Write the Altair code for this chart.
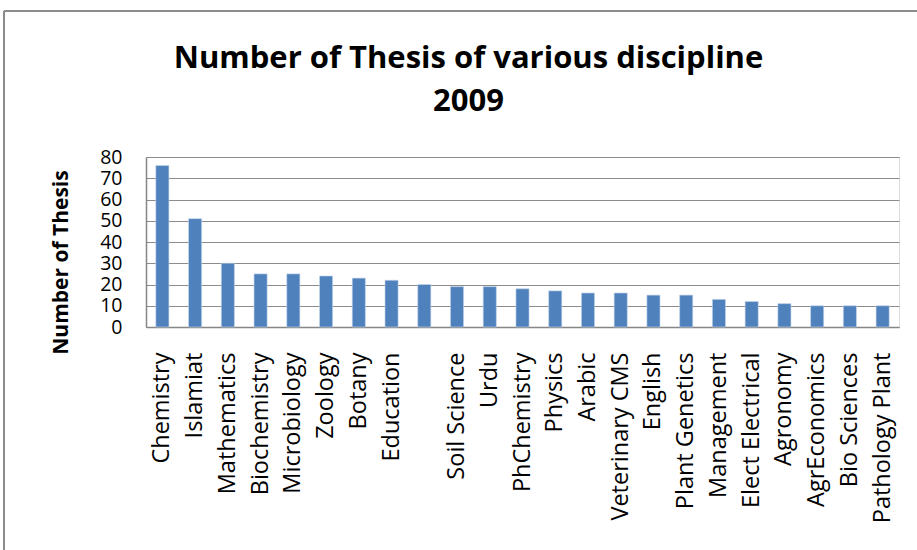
import altair as alt
import pandas as pd

# Theses per discipline, 2009 (one discipline has no name on record)
disciplines = [
    "Chemistry", "Islamiat", "Mathematics", "Biochemistry", "Microbiology",
    "Zoology", "Botany", "Education", " ", "Soil Science", "Urdu",
    "PhChemistry", "Physics", "Arabic", "Veterinary CMS", "English",
    "Plant Genetics", "Management", "Elect Electrical", "Agronomy",
    "AgrEconomics", "Bio Sciences", "Pathology Plant",
]
theses = [76, 51, 30, 25, 25, 24, 23, 22, 20, 19, 19, 18, 17, 16, 16, 15,
          15, 13, 12, 11, 10, 10, 10]
y_ticks = [0, 10, 20, 30, 40, 50, 60, 70, 80]

df = pd.DataFrame({"discipline": disciplines, "count": theses})

FONT = "Open Sans"
PLOT_W, PLOT_H = 753, 170
LEFT, TOP = 146, 157

bars = alt.Chart(df).mark_bar(
    color="#4F81BD", stroke="#C5D5EA", strokeWidth=0.6
).encode(
    x=alt.X(
        "discipline:N",
        sort=disciplines,
        scale=alt.Scale(paddingInner=0.6, paddingOuter=0.3),
        axis=alt.Axis(
            title=None, labelAngle=-90, labelAlign="right",
            labelBaseline="middle", labelFont=FONT, labelFontSize=23.5,
            labelColor="#000000", labelPadding=25, ticks=False,
            domainColor="#868686", domainWidth=1.5, labelLimit=300,
        ),
    ),
    y=alt.Y(
        "count:Q",
        scale=alt.Scale(domain=[0, 80], nice=False),
        axis=alt.Axis(
            title="Number of Thesis", values=y_ticks, ticks=False,
            labelFont=FONT, labelFontSize=19.5, labelColor="#000000",
            labelPadding=24, titleFont=FONT, titleFontSize=21,
            titleFontWeight="bold", titleColor="#000000", titlePadding=28,
            titleY=105, domainColor="#868686", domainWidth=1.5, grid=True,
            gridColor="#8C8C8C", gridWidth=1.2,
        ),
    ),
)

# Outer chart frame (left and top edges)
frame_left = alt.Chart(df).mark_rule(color="#8C8C8C", strokeWidth=2).encode(
    x=alt.value(4 - LEFT), y=alt.value(11 - TOP), y2=alt.value(560)
)
frame_top = alt.Chart(df).mark_rule(color="#8C8C8C", strokeWidth=2).encode(
    x=alt.value(4 - LEFT), x2=alt.value(930 - LEFT), y=alt.value(11 - TOP)
)

chart = alt.layer(frame_left, frame_top, bars).properties(
    width=PLOT_W,
    height=PLOT_H,
    autosize=alt.AutoSizeParams(type="none"),
    padding={"left": LEFT, "top": TOP, "right": 917 - LEFT - PLOT_W, "bottom": 550 - TOP - PLOT_H},
    title=alt.TitleParams(
        text=["Number of Thesis of various discipline", "2009"],
        font=FONT, fontSize=31, fontWeight="bold", color="#000000",
        anchor="middle", frame="group", dx=-54, offset=-108,
        baseline="top", lineHeight=43,
    ),
).configure_view(stroke=None).configure(background="white")

chart.save("out.html", embed_options={"renderer": "svg", "actions": False})
